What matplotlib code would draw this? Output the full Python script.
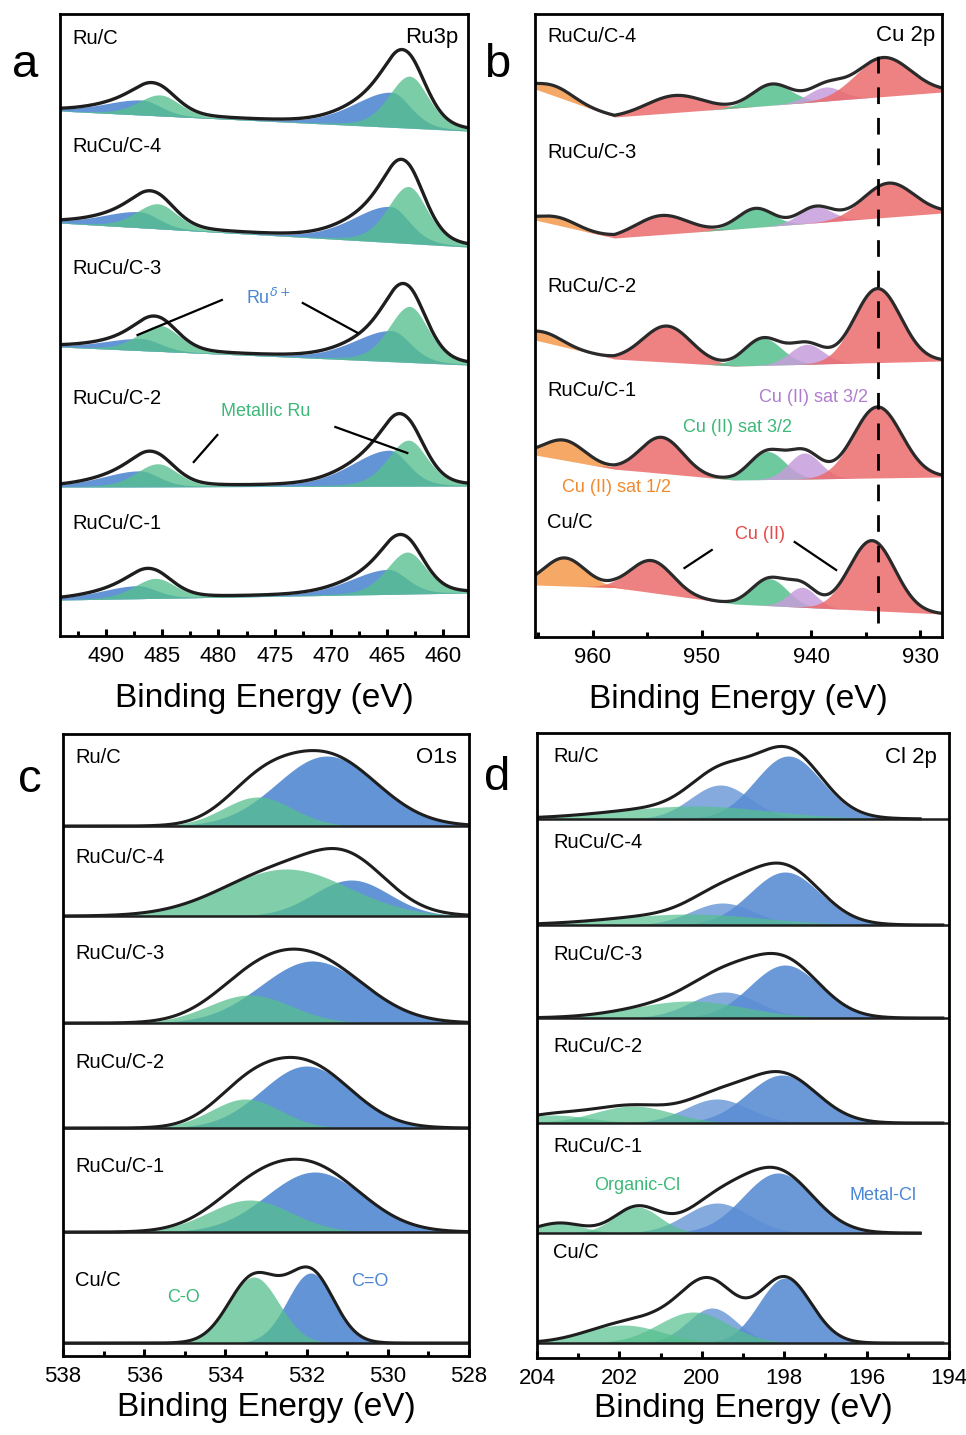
import numpy as np
import matplotlib
matplotlib.use("Agg")
import matplotlib.pyplot as plt
from matplotlib.ticker import MultipleLocator

plt.rcParams['font.family'] = ['Liberation Sans', 'DejaVu Sans']

# ---------------- colours ----------------
BLUE = '#5b8ed4'
GREEN = '#55c08e'
RED = '#ec6b6b'
PURPLE = '#c69ddb'
ORANGE = '#f59a4c'
LINE = '#1e1e1e'

# ---------------- panel a : Ru 3p ----------------
A_SAMPLES = ["Ru/C", "RuCu/C-4", "RuCu/C-3", "RuCu/C-2", "RuCu/C-1"]
A_BG_LEFT = [525, 413, 289, 149, 36]     # background at 494.1 eV
A_BG_RIGHT = [505, 389, 271, 150, 43]    # background at 457.8 eV
# (centre eV, height, fwhm)
A_GREEN_32 = [(463.0, 52, 4.2), (463.1, 57, 4.2), (463.0, 56, 4.2), (463.1, 46, 4.2), (463.2, 42, 4.2)]
A_BLUE_32 = [(464.6, 35, 6.0), (464.7, 36, 6.0), (464.6, 31, 6.0), (464.8, 36, 6.0), (464.9, 25, 6.0)]
A_GREEN_12 = [(485.2, 21, 4.4), (485.4, 25, 4.4), (485.2, 26, 4.4), (485.4, 23, 4.4), (485.6, 20, 4.4)]
A_BLUE_12 = [(486.8, 15, 6.0), (487.0, 16, 6.0), (486.8, 12, 6.0), (487.0, 16, 6.0), (487.2, 13, 6.0)]
A_LABEL_Y = [598, 490, 367, 237, 113]

# ---------------- panel b : Cu 2p ----------------
B_SAMPLES = ["RuCu/C-4", "RuCu/C-3", "RuCu/C-2", "RuCu/C-1", "Cu/C"]
B_BG_X = [965.3, 958.0, 947.0, 928.0]
B_BG_Y = [[548, 520, 529, 545], [417, 399, 408, 424], [297, 278, 271, 276],
          [182, 168, 157, 160], [52, 49.5, 33, 23]]
B_ORANGE = [(963.5, 10, 4.0), (963.2, 8, 4.0), (964.5, 10, 4.0), (962.6, 20, 4.4), (962.6, 28, 4.4)]
B_RED_12 = [(952.5, 17, 6.0), (953.7, 19, 5.5), (953.2, 36, 5.2), (953.7, 36, 4.6), (954.6, 32, 4.6)]
B_GREEN = [(943.6, 21, 4.2), (945.1, 19, 3.8), (944.4, 27, 4.0), (944.0, 28, 3.8), (943.8, 27, 3.8)]
B_PURPLE = [(938.7, 14, 3.6), (939.6, 16, 3.6), (940.4, 20, 3.6), (940.6, 26, 3.4), (940.8, 20, 3.0)]
B_RED_32 = [(933.4, 39, 6.0), (932.9, 34, 5.5), (933.9, 74, 5.0), (933.9, 71, 5.2), (934.4, 70, 4.9)]
B_LABEL_Y = [601, 484, 350, 247, 114]
B_CU2_LINE = 933.9

# ---------------- panel c : O 1s ----------------
C_SAMPLES = ["Ru/C", "RuCu/C-4", "RuCu/C-3", "RuCu/C-2", "RuCu/C-1", "Cu/C"]
C_BASE = [530, 440, 333, 228, 124, 13]
C_BLUE = [(531.5, 70, 2.9), (530.9, 36, 2.2), (531.85, 62, 3.0), (532.0, 62, 2.6), (531.8, 60, 2.8), (531.9, 70, 1.35)]
C_GREEN = [(533.2, 29, 2.0), (532.5, 47, 3.6), (533.4, 28, 2.4), (533.5, 29, 2.0), (533.4, 32, 2.4), (533.3, 66, 1.45)]
C_LABEL_Y = [599, 499, 403, 293, 190, 76]

# ---------------- panel d : Cl 2p ----------------
D_SAMPLES = ["Ru/C", "RuCu/C-4", "RuCu/C-3", "RuCu/C-2", "RuCu/C-1", "Cu/C"]
D_BASE = [539, 433, 340, 235, 125, 15]
D_XEND = [194.7, 194.15, 194.15, 194.15, 194.7, 194.15]
D_LINE_END = [194.0, 194.0, 194.0, 194.0, 194.7, 194.0]
D_BLUE_1 = [(197.9, 63, 1.9), (197.98, 53, 2.0), (197.98, 53, 2.0), (198.05, 48, 2.0), (198.15, 60, 2.0), (197.98, 65, 1.5)]
D_BLUE_2 = [(199.55, 34, 1.7), (199.5, 22, 1.8), (199.45, 26, 1.9), (199.63, 24, 1.8), (199.63, 30, 1.8), (199.75, 35, 1.4)]
D_GREEN_1 = [(200.2, 13, 4.4), (200.3, 11, 4.2), (200.3, 17, 3.2), (201.67, 17, 2.2), (201.57, 26, 1.3), (200.2, 31, 2.0)]
D_GREEN_2 = [None, None, None, (203.6, 8, 2.0), (203.45, 10, 1.3), (201.9, 18, 2.2)]
D_LABEL_Y = [601, 515, 403, 312, 212, 106]


def peak(x, comp, eta=0.0, asym=1.0):
    c, h, fw = comp
    hw = np.where(x >= c, asym * fw / (1 + asym), fw / (1 + asym))
    u = (x - c) / hw
    return h * ((1 - eta) * np.exp(-np.log(2) * u ** 2) + eta / (1 + u ** 2))


def style_axis(ax, xlim, ylim, major, minor, labelpad):
    ax.set_xlim(*xlim)
    ax.set_ylim(*ylim)
    ax.set_yticks([])
    ax.xaxis.set_major_locator(MultipleLocator(major))
    ax.xaxis.set_minor_locator(MultipleLocator(minor))
    ax.tick_params(axis='x', which='major', direction='in', length=5, width=2.2,
                   labelsize=16, pad=7, top=False)
    ax.tick_params(axis='x', which='minor', direction='in', length=3.5, width=2.2, top=False)
    for s in ax.spines.values():
        s.set_linewidth(2.0)
    ax.set_xlabel("Binding Energy (eV)", fontsize=24, labelpad=labelpad)


fig = plt.figure(figsize=(9.66, 14.35), dpi=100)
W, H = 966.0, 1435.0
axA = fig.add_axes([60 / W, 1 - 636 / H, 408 / W, 622 / H])
axB = fig.add_axes([535 / W, 1 - 637 / H, 407 / W, 623 / H])
axC = fig.add_axes([63 / W, 1 - 1356 / H, 406 / W, 622 / H])
axD = fig.add_axes([537 / W, 1 - 1358 / H, 412 / W, 625 / H])

# ---------- panel a ----------
xa = np.linspace(494.1, 457.8, 900)
for i, name in enumerate(A_SAMPLES):
    bg = A_BG_LEFT[i] + (A_BG_RIGHT[i] - A_BG_LEFT[i]) * (494.1 - xa) / (494.1 - 457.8)
    b32 = peak(xa, A_BLUE_32[i], 0.3, 2.0)
    b12 = peak(xa, A_BLUE_12[i], 0.3, 2.0)
    g32 = peak(xa, A_GREEN_32[i], 0.3, 1.1)
    g12 = peak(xa, A_GREEN_12[i], 0.3, 1.1)
    for comp, col, al in [(b12, BLUE, 0.95), (b32, BLUE, 0.95), (g12, GREEN, 0.78), (g32, GREEN, 0.78)]:
        axA.fill_between(xa, bg, bg + comp, color=col, alpha=al, lw=0)
    axA.plot(xa, bg + b32 + b12 + g32 + g12, color=LINE, lw=2.4)
    axA.text(493.0, A_LABEL_Y[i], name, fontsize=14.5, ha='left', va='center')
axA.text(458.7, 598, "Ru3p", fontsize=16, ha='right', va='center')
axA.text(475.6, 338, r"Ru$^{\delta+}$", fontsize=13, color='#4a86d4', ha='center', va='center')
axA.plot([479.7, 487.2], [336, 301], color='k', lw=1.6)
axA.plot([472.5, 467.6], [333, 303], color='k', lw=1.6)
axA.text(475.8, 224, "Metallic Ru", fontsize=13, color='#3cb878', ha='center', va='center')
axA.plot([480.1, 482.2], [201, 174], color='k', lw=1.6)
axA.plot([469.6, 463.2], [209, 183], color='k', lw=1.6)
style_axis(axA, (494.1, 457.8), (0, 622), 5, 2.5, 12)

# ---------- panel b ----------
xb = np.linspace(965.3, 928.0, 900)
for i, name in enumerate(B_SAMPLES):
    bg = np.interp(xb, B_BG_X[::-1], B_BG_Y[i][::-1])
    comps = [(peak(xb, B_ORANGE[i]), ORANGE), (peak(xb, B_RED_12[i]), RED),
             (peak(xb, B_GREEN[i]), GREEN), (peak(xb, B_PURPLE[i]), PURPLE),
             (peak(xb, B_RED_32[i]), RED)]
    total = bg.copy()
    for comp, col in comps:
        axB.fill_between(xb, bg, bg + comp, color=col, alpha=0.85, lw=0)
        total = total + comp
    axB.plot(xb, total, color='#2a2a2a', lw=2.3)
    axB.text(964.2, B_LABEL_Y[i], name, fontsize=14.5, ha='left', va='center')
axB.text(928.6, 601, "Cu 2p", fontsize=16, ha='right', va='center')
axB.plot([B_CU2_LINE, B_CU2_LINE], [14, 582], color='k', lw=2.0, dashes=(6, 5))
axB.text(939.8, 239, "Cu (II) sat 3/2", fontsize=13, color='#b07cd0', ha='center', va='center')
axB.text(946.7, 210, "Cu (II) sat 3/2", fontsize=13, color='#3cb878', ha='center', va='center')
axB.text(957.8, 149, "Cu (II) sat 1/2", fontsize=13, color='#f08a30', ha='center', va='center')
axB.text(944.7, 102, "Cu (II)", fontsize=13, color='#e84848', ha='center', va='center')
axB.plot([951.6, 949.1], [69, 87], color='k', lw=1.6)
axB.plot([941.5, 937.7], [95, 67], color='k', lw=1.6)
style_axis(axB, (965.3, 928.0), (0, 623), 10, 5, 12)

# ---------- panel c ----------
xc = np.linspace(538.0, 528.0, 700)
for i, name in enumerate(C_SAMPLES):
    base = C_BASE[i]
    bl = peak(xc, C_BLUE[i])
    gr = peak(xc, C_GREEN[i])
    axC.fill_between(xc, base, base + bl, color=BLUE, alpha=0.95, lw=0)
    axC.fill_between(xc, base, base + gr, color=GREEN, alpha=0.75, lw=0)
    axC.axhline(base, color=LINE, lw=1.8)
    axC.plot(xc, base + bl + gr, color=LINE, lw=2.2)
    axC.text(537.7, C_LABEL_Y[i], name, fontsize=14.5, ha='left', va='center')
axC.text(528.3, 599, "O1s", fontsize=16, ha='right', va='center')
axC.text(535.04, 59, "C-O", fontsize=13, color='#3cb878', ha='center', va='center')
axC.text(530.44, 74, "C=O", fontsize=13, color='#4a86d4', ha='center', va='center')
style_axis(axC, (538, 528), (0, 622), 2, 1, 4)

# ---------- panel d ----------
for i, name in enumerate(D_SAMPLES):
    base = D_BASE[i]
    xd = np.linspace(204.0, D_XEND[i], 700)
    b1 = peak(xd, D_BLUE_1[i])
    b2 = peak(xd, D_BLUE_2[i])
    g1 = peak(xd, D_GREEN_1[i])
    g2 = peak(xd, D_GREEN_2[i]) if D_GREEN_2[i] is not None else np.zeros_like(xd)
    axD.fill_between(xd, base, base + b1, color=BLUE, alpha=0.9, lw=0)
    axD.fill_between(xd, base, base + b2, color=BLUE, alpha=0.75, lw=0)
    axD.fill_between(xd, base, base + g1, color=GREEN, alpha=0.7, lw=0)
    if D_GREEN_2[i] is not None:
        axD.fill_between(xd, base, base + g2, color=GREEN, alpha=0.7, lw=0)
    axD.plot([204.0, D_LINE_END[i]], [base, base], color=LINE, lw=1.8)
    axD.plot(xd, base + b1 + b2 + g1 + g2, color=LINE, lw=2.2)
    axD.text(203.6, D_LABEL_Y[i], name, fontsize=14.5, ha='left', va='center')
axD.text(194.3, 601, "Cl 2p", fontsize=16, ha='right', va='center')
axD.text(201.57, 173, "Organic-Cl", fontsize=13, color='#3cb878', ha='center', va='center')
axD.text(195.6, 163, "Metal-Cl", fontsize=13, color='#4a86d4', ha='center', va='center')
style_axis(axD, (204, 194), (0, 625), 2, 1, 3)

# panel letters
for lab, px, py in [("a", 25, 65), ("b", 497, 65), ("c", 30, 780), ("d", 497, 778)]:
    fig.text(px / W, 1 - py / H, lab, fontsize=34, ha='center', va='center')

fig.savefig("out.png", dpi=100)
